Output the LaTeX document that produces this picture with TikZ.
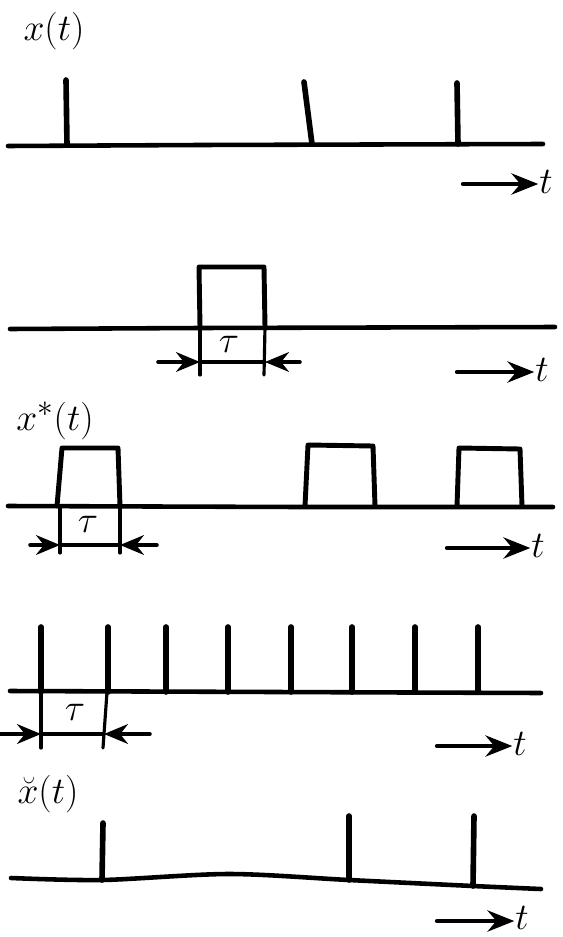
\documentclass[tikz,border=0pt]{standalone}
\usepackage{tikz}
\usetikzlibrary{arrows.meta}

\begin{document}
\begin{tikzpicture}[x=0.05cm, y=-0.05cm, line cap=round, line join=round,
  axisline/.style={line width=6.5pt},
  spike/.style={line width=8pt},
  pulse/.style={line width=7pt},
  helpline/.style={line width=4.5pt},
  dimarrow/.style={line width=5pt, -{Stealth[length=34pt, width=28pt]}},
  tarrow/.style={line width=6pt, -{Stealth[length=38pt, width=30pt]}},
  lbl/.style={font=\Huge, scale=2.15, inner sep=0.5pt}]
\useasboundingbox (0,0) rectangle (562,937);

% x(t)
\node[lbl] (xlab) at (54,31) {$x(t)$};
\draw[axisline] (8,146) -- (200,145) -- (543,144);
\draw[spike] (66,80) -- (67,145);
\draw[spike] (304,82) -- (312,144);
\draw[spike] (457,83) -- (458,144);
\node[lbl] (t1) at (546,182) {$t$};
\coordinate (a1) at (463,184);
\draw[tarrow] (a1) -- (a1 -| t1.west);

% single pulse of width tau
\draw[axisline] (10,329) -- (200,328) -- (555,327);
\draw[pulse] (200,327) -- (199,267) -- (264,267) -- (265,327);
\draw[helpline] (200,327) -- (200,375);
\draw[helpline] (265,327) -- (264,375);
\draw[helpline] (200,362) -- (265,362);
\node[lbl] (tau1) at (229,344) {$\tau$};
\coordinate (d1l) at (158,362);
\coordinate (d1r) at (300,362);
\draw[dimarrow] (d1l) -- (200,362);
\draw[dimarrow] (d1r) -- (265,362);
\node[lbl] (t2) at (542,370) {$t$};
\coordinate (a2) at (457,372);
\draw[tarrow] (a2) -- (a2 -| t2.west);

% x*(t)
\node[lbl] (xslab) at (55,421) {$x^{*}(t)$};
\draw[axisline] (8,506) -- (300,507) -- (553,507);
\draw[pulse] (57,506) -- (62,448) -- (118,448) -- (120,506);
\draw[pulse] (305,506) -- (308,445) -- (373,446) -- (375,506);
\draw[pulse] (457,506) -- (459,448) -- (520,449) -- (522,506);
\draw[helpline] (60,506) -- (60,553);
\draw[helpline] (120,506) -- (120,553);
\draw[helpline] (60,545) -- (120,545);
\node[lbl] (tau2) at (88,524) {$\tau$};
\coordinate (d2l) at (30,545);
\coordinate (d2r) at (157,545);
\draw[dimarrow] (d2l) -- (60,545);
\draw[dimarrow] (d2r) -- (120,545);
\node[lbl] (t3) at (538,546) {$t$};
\coordinate (a3) at (447,548);
\draw[tarrow] (a3) -- (a3 -| t3.west);

% sampling train
\draw[axisline] (10,691) -- (541,693);
\foreach \sx in {41,108,166,228,291,352,415,478}
  \draw[spike] (\sx,627) -- (\sx,692);
\draw[helpline] (41,692) -- (41,748);
\draw[helpline] (107,692) -- (103,748);
\draw[helpline] (41,734) -- (104,734);
\node[lbl] (tau3) at (75,712) {$\tau$};
\coordinate (d3l) at (0,734);
\coordinate (d3r) at (150,734);
\draw[dimarrow] (d3l) -- (41,734);
\draw[dimarrow] (d3r) -- (104,734);
\node[lbl] (t4) at (520,744) {$t$};
\coordinate (a4) at (437,746);
\draw[tarrow] (a4) -- (a4 -| t4.west);

% breve x(t)
\node[lbl] (xblab) at (48,794) {$\breve{x}(t)$};
\draw[axisline] plot[smooth] coordinates {(11,878) (102,880) (229,874) (349,880) (473,886) (541,889)};
\draw[spike] (103,823) -- (102,880);
\draw[spike] (349,816) -- (349,880);
\draw[spike] (474,816) -- (473,886);
\node[lbl] (t5) at (522,918) {$t$};
\coordinate (a5) at (437,921);
\draw[tarrow] (a5) -- (a5 -| t5.west);
\end{tikzpicture}
\end{document}
